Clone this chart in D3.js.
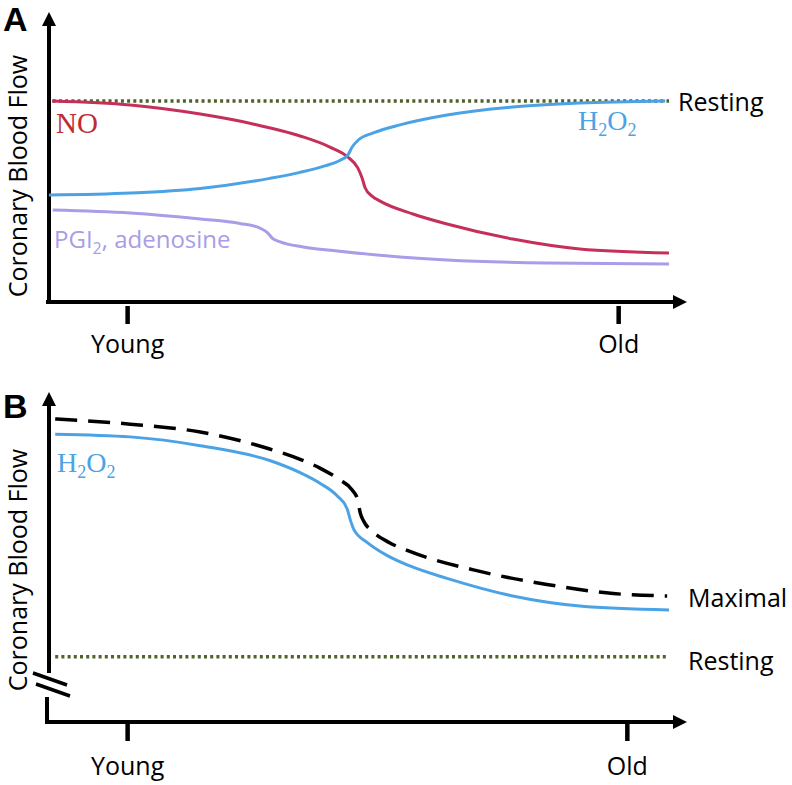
<!DOCTYPE html>
<html>
<head>
<meta charset="utf-8">
<script src="https://cdn.jsdelivr.net/npm/d3@7"></script>
<style>
  body { margin: 0; background: #fff; }
  svg { display: block; font-family: "Open Sans", sans-serif; }
</style>
</head>
<body>
<svg id="plots" width="792" height="785"></svg>
<script>
// age axis 0..100, flow in arbitrary units (A: 100 = resting, B: 100 = top of maximal)
const ageLabels = ['Young', 'Old'];
const agePosA = [12.6, 91.8];
const agePosB = [12.6, 93.2];

const restingA = 100;
const restingB = 21.5;

const noA = [[0.5, 100.0], [13.1, 98.0], [24.4, 93.5], [32.9, 88.6], [40.5, 82.6], [45.3, 77.1],
  [48.2, 72.1], [49.8, 66.7], [50.5, 61.7], [51.0, 56.7], [52.1, 52.7], [53.4, 50.2],
  [58.7, 43.8], [64.2, 38.8], [74.8, 31.3], [85.6, 26.4], [100, 24.4]];

const h2o2A = [[0, 53.2], [13.1, 54.2], [24.4, 56.5], [35.6, 61.5], [40.5, 64.5], [44.5, 67.7],
  [46.9, 70.4], [48.2, 73.1], [48.9, 77.1], [49.9, 80.6], [52.3, 84.1], [56.6, 88.1],
  [64.2, 93.0], [74.8, 97.0], [85.6, 99.0], [99.4, 100.0]];

const pgiA = [[0.6, 45.8], [13.1, 44.3], [24.4, 41.3], [30.8, 39.1], [34.0, 36.8], [35.3, 34.3],
  [36.0, 31.8], [37.3, 29.9], [41.0, 27.4], [46.5, 25.4], [56.6, 22.4], [64.2, 20.9],
  [80.3, 19.4], [100, 18.9]];

const maximalB = [[1.0, 100], [13.1, 98.3], [24.4, 95.7], [35.6, 90.1], [40.5, 86.7], [43.7, 83.8],
  [46.9, 79.9], [48.9, 76.6], [49.8, 73.3], [50.2, 69.0], [50.7, 66.5], [52.3, 62.7],
  [55.0, 59.1], [58.2, 56.3], [69.5, 49.7], [80.3, 45.4], [91.0, 42.4], [99.7, 41.6]];

const h2o2B = [[1.0, 95.0], [13.1, 94.1], [24.4, 91.2], [35.6, 86.3], [40.5, 82.3], [43.7, 78.8],
  [46.5, 74.6], [48.1, 70.3], [48.6, 66.7], [49.2, 63.4], [51.3, 59.3], [54.5, 55.0],
  [58.2, 51.5], [64.2, 47.4], [74.8, 41.6], [85.6, 38.3], [100, 37.0]];

const RED = '#c5305a';
const RED_TEXT = '#c22a32';
const BLUE = '#4ba3e6';
const LAVENDER = '#a79de8';
const OLIVE = '#4f6228';
const SERIF = '"Liberation Serif", "Times New Roman", serif';

main();

function main () {
  const svg = d3.select('svg#plots');
  const x = d3.scaleLinear().domain([0, 100]).range([49, 669]);
  const yA = d3.scaleLinear().domain([0, 100]).range([302, 101]);
  const yB = d3.scaleLinear().domain([0, 100]).range([722, 419]);

  // ---------- panel A ----------
  const gA = svg.append('g');
  drawAxes(gA, 302, 12, false);
  drawAgeAxis(gA, x, agePosA, 306, 353);
  panelLetter(gA, 'A', 31);
  yLabel(gA, 176);

  resting(gA, x(0.6), x(100), yA(restingA));

  curve(gA, pgiA, x, yA, LAVENDER, 3);
  curve(gA, noA, x, yA, RED, 3);
  curve(gA, h2o2A, x, yA, BLUE, 3);

  gA.append('text').text('Resting').attr('x', 678).attr('y', 111).attr('font-size', 25);
  gA.append('text').text('NO')
    .attr('x', 56).attr('y', 133)
    .style('font-family', SERIF).attr('font-size', 29)
    .attr('fill', RED_TEXT);
  chemH2O2(gA, 578, 130, BLUE);
  const pgi = gA.append('text').attr('x', 54).attr('y', 248).attr('font-size', 24).attr('fill', LAVENDER);
  pgi.append('tspan').text('PGI');
  pgi.append('tspan').text('2').attr('font-size', 16).attr('dy', 6);
  pgi.append('tspan').text(', adenosine').attr('dy', -6);

  // ---------- panel B ----------
  const gB = svg.append('g');
  drawAxes(gB, 722, 392, true);
  drawAgeAxis(gB, x, agePosB, 723, 775);
  panelLetter(gB, 'B', 418);
  yLabel(gB, 570);

  resting(gB, x(1), x(100), yB(restingB));

  curve(gB, h2o2B, x, yB, BLUE, 3);
  curve(gB, maximalB, x, yB, '#000', 3.5).attr('stroke-dasharray', '22,11');

  gB.append('text').text('Maximal').attr('x', 688).attr('y', 607).attr('font-size', 25);
  gB.append('text').text('Resting').attr('x', 688).attr('y', 670).attr('font-size', 25);
  chemH2O2(gB, 57, 472, BLUE);
}

function resting (g, x1, x2, y) {
  g.append('line')
    .attr('x1', x1).attr('x2', x2)
    .attr('y1', y).attr('y2', y)
    .attr('stroke', OLIVE).attr('stroke-width', 3.5).attr('stroke-dasharray', '3,3.2');
}

function curve (g, data, x, y, color, width) {
  const line = d3.line()
    .x(d => x(d[0]))
    .y(d => y(d[1]))
    .curve(d3.curveMonotoneX);
  return g.append('path')
    .attr('d', line(data))
    .attr('fill', 'none')
    .attr('stroke', color)
    .attr('stroke-width', width);
}

function drawAxes (g, axisY, tipY, broken) {
  const ax = 49;
  const tipX = 687;
  // x axis + arrow
  g.append('line').attr('x1', 46).attr('x2', tipX - 12).attr('y1', axisY).attr('y2', axisY)
    .attr('stroke', '#000').attr('stroke-width', 4);
  g.append('path')
    .attr('d', `M${tipX},${axisY} L${tipX - 14},${axisY - 7} L${tipX - 14},${axisY + 7} Z`)
    .attr('fill', '#000');
  // y axis + arrow
  const yBottom = broken ? 673 : axisY + 2;
  g.append('line').attr('x1', ax).attr('x2', ax).attr('y1', yBottom).attr('y2', tipY + 12)
    .attr('stroke', '#000').attr('stroke-width', 4);
  g.append('path')
    .attr('d', `M${ax},${tipY} L${ax - 7},${tipY + 14} L${ax + 7},${tipY + 14} Z`)
    .attr('fill', '#000');
  if (broken) {
    g.append('line').attr('x1', 47).attr('x2', 47).attr('y1', 697).attr('y2', axisY + 2)
      .attr('stroke', '#000').attr('stroke-width', 4);
    g.append('line').attr('x1', 33).attr('y1', 673).attr('x2', 67).attr('y2', 685)
      .attr('stroke', '#000').attr('stroke-width', 3.5);
    g.append('line').attr('x1', 36).attr('y1', 684).attr('x2', 70).attr('y2', 696)
      .attr('stroke', '#000').attr('stroke-width', 3.5);
  }
}

function drawAgeAxis (g, x, positions, top, baseline) {
  const axis = d3.axisBottom(x)
    .tickValues(positions)
    .tickFormat((d, i) => ageLabels[i])
    .tickSize(18)
    .tickPadding(0);
  const ga = g.append('g').attr('transform', `translate(0,${top})`).call(axis);
  ga.select('.domain').remove();
  ga.selectAll('.tick line').attr('stroke', '#000').attr('stroke-width', 4.5);
  ga.selectAll('.tick text')
    .attr('y', baseline - top).attr('dy', 0)
    .attr('font-size', 25)
    .attr('font-family', '"Open Sans", sans-serif')
    .attr('fill', '#000');
}

function panelLetter (g, letter, baseline) {
  g.append('text').text(letter)
    .attr('x', 3).attr('y', baseline)
    .style('font-family', '"Liberation Sans", Arial, sans-serif')
    .attr('font-weight', 'bold').attr('font-size', 34);
}

function yLabel (g, cy) {
  g.append('text').text('Coronary Blood Flow')
    .attr('transform', `translate(27,${cy}) rotate(-90)`)
    .attr('text-anchor', 'middle')
    .attr('font-size', 25);
}

function chemH2O2 (g, x, y, color) {
  const t = g.append('text').attr('x', x).attr('y', y)
    .style('font-family', SERIF).attr('font-size', 28).attr('fill', color);
  t.append('tspan').text('H');
  t.append('tspan').text('2').attr('font-size', 18).attr('dy', 6);
  t.append('tspan').text('O').attr('dy', -6);
  t.append('tspan').text('2').attr('font-size', 18).attr('dy', 6);
}
</script>
</body>
</html>
